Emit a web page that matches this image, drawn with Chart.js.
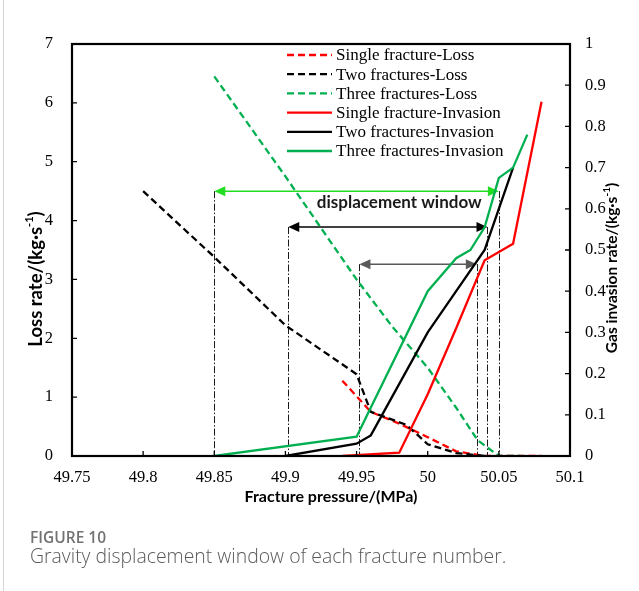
<!DOCTYPE html>
<html>
<head>
<meta charset="utf-8">
<script src="https://cdn.jsdelivr.net/npm/chart.js@4.4.1/dist/chart.umd.min.js"></script>
<style>
    html, body { margin: 0; padding: 0; background: #fff; }
    #wrap { position: relative; width: 639px; height: 591px; overflow: hidden; }
    #edge { position: absolute; left: 3px; top: 0; width: 1px; height: 591px; background: #d6d6d6; }
    #chart { position: absolute; left: 0; top: 0; }
    .fig { position: absolute; left: 30px; top: 526px; font: 600 15.5px "Open Sans"; color: #727272; }
    .cap { position: absolute; left: 30px; top: 542px; font: 300 19.4px "Open Sans"; color: #5a5a5a; white-space: nowrap; }
</style>
</head>
<body>
<div id="wrap">
    <div id="edge"></div>
    <canvas id="chart" width="639" height="591"></canvas>
    <div class="fig">FIGURE 10</div>
    <div class="cap">Gravity displacement window of each fracture number.</div>
</div>
<script>
// axis ticks
var xTicks = [49.75, 49.8, 49.85, 49.9, 49.95, 50, 50.05, 50.1];
var xTickLabels = ['49.75', '49.8', '49.85', '49.9', '49.95', '50', '50.05', '50.1'];
var lossTicks = [0, 1, 2, 3, 4, 5, 6, 7];
var lossTickLabels = ['0', '1', '2', '3', '4', '5', '6', '7'];
var gasTicks = [0, 0.1, 0.2, 0.3, 0.4, 0.5, 0.6, 0.7, 0.8, 0.9, 1];
var gasTickLabels = ['0', '0.1', '0.2', '0.3', '0.4', '0.5', '0.6', '0.7', '0.8', '0.9', '1'];

// loss rate (left axis)
var singleLossX = [49.94, 49.96, 49.98, 50, 50.02, 50.04, 50.06, 50.08];
var singleLossY = [1.28, 0.75, 0.55, 0.32, 0.08, 0, 0, 0];
var twoLossX = [49.8, 49.85, 49.9, 49.95, 49.96, 49.985, 50, 50.02, 50.04];
var twoLossY = [4.5, 3.38, 2.22, 1.39, 0.75, 0.53, 0.2, 0.05, 0];
var threeLossX = [49.85, 49.9, 49.95, 49.975, 50, 50.02, 50.035, 50.05, 50.065];
var threeLossY = [6.45, 4.75, 3.0, 2.2, 1.5, 0.82, 0.27, 0, 0];

// gas invasion rate (right axis)
var singleInvX = [49.94, 49.98, 50, 50.02, 50.04, 50.06, 50.08];
var singleInvY = [0, 0.008, 0.15, 0.31, 0.475, 0.515, 0.86];
var twoInvX = [49.9, 49.95, 49.96, 49.98, 50, 50.02, 50.04, 50.06];
var twoInvY = [0, 0.03, 0.05, 0.175, 0.3, 0.4, 0.5, 0.7];
var threeInvX = [49.85, 49.95, 50, 50.02, 50.03, 50.04, 50.05, 50.06, 50.07];
var threeInvY = [0, 0.047, 0.4, 0.48, 0.5, 0.555, 0.675, 0.7, 0.78];

// displacement windows: left / right pressure and loss-rate level of the arrow
var windowLeft = [49.85, 49.902, 49.952];
var windowRight = [50.05, 50.042, 50.0345];
var windowLevel = [4.5, 3.89, 3.26];

function pts(xs, ys) {
    return xs.map(function (x, i) { return { x: x, y: ys[i] }; });
}

var RED = '#ff0000', BLACK = '#000000', GREEN = '#00b050';
var DASH = [7, 4];

function series(label, xs, ys, color, dashed, axis, order) {
    return {
        label: label,
        data: pts(xs, ys),
        borderColor: color,
        backgroundColor: color,
        borderWidth: 2.3,
        borderDash: dashed ? DASH : [],
        pointRadius: 0,
        tension: 0,
        fill: false,
        yAxisID: axis,
        order: order
    };
}

var datasets = [
    series('Single fracture-Loss', singleLossX, singleLossY, RED, true, 'yLoss', 6),
    series('Two fractures-Loss', twoLossX, twoLossY, BLACK, true, 'yLoss', 5),
    series('Three fractures-Loss', threeLossX, threeLossY, GREEN, true, 'yLoss', 4),
    series('Single fracture-Invasion', singleInvX, singleInvY, RED, false, 'yGas', 3),
    series('Two fractures-Invasion', twoInvX, twoInvY, BLACK, false, 'yGas', 2),
    series('Three fractures-Invasion', threeInvX, threeInvY, GREEN, false, 'yGas', 1)
];

var serif = '"Liberation Serif", "Times New Roman", serif';
var sans = 'Lato, "Liberation Sans", sans-serif';

function fixedTicks(values) {
    return function (scale) {
        scale.ticks = values.map(function (v) { return { value: v }; });
    };
}

// text with a superscript part, centred at (0,0) of the current transform
function drawRich(ctx, parts, size) {
    var big = 'bold ' + size + 'px ' + sans,
        small = 'bold ' + Math.round(size * 0.62) + 'px ' + sans,
        total = 0;
    parts.forEach(function (p) {
        ctx.font = p.sup ? small : big;
        p.w = ctx.measureText(p.t).width;
        total += p.w;
    });
    var x = -total / 2;
    ctx.textAlign = 'left';
    ctx.textBaseline = 'middle';
    parts.forEach(function (p) {
        ctx.font = p.sup ? small : big;
        ctx.fillText(p.t, x, p.sup ? -size * 0.35 : 0);
        x += p.w;
    });
}

function arrowHead(ctx, x, y, dir) {
    ctx.beginPath();
    ctx.moveTo(x, y);
    ctx.lineTo(x - dir * 11, y - 5);
    ctx.lineTo(x - dir * 11, y + 5);
    ctx.closePath();
    ctx.fill();
}

var windowPlugin = {
    id: 'windows',
    beforeDatasetsDraw: function (chart) {
        var ctx = chart.ctx,
            xs = chart.scales.x,
            ys = chart.scales.yLoss,
            bottom = chart.chartArea.bottom,
            colors = ['#22dd22', '#000000', '#595959'];

        ctx.save();
        windowLeft.forEach(function (l, i) {
            var xl = xs.getPixelForValue(l),
                xr = xs.getPixelForValue(windowRight[i]),
                y = ys.getPixelForValue(windowLevel[i]);

            // dash-dot drop lines
            ctx.strokeStyle = '#1a1a1a';
            ctx.lineWidth = 1;
            ctx.setLineDash([7, 2, 1.5, 2]);
            [xl, xr].forEach(function (x) {
                ctx.beginPath();
                ctx.moveTo(Math.round(x) + 0.5, y);
                ctx.lineTo(Math.round(x) + 0.5, bottom);
                ctx.stroke();
            });

            // double arrow
            ctx.setLineDash([]);
            ctx.strokeStyle = colors[i];
            ctx.fillStyle = colors[i];
            ctx.lineWidth = 1.5;
            ctx.beginPath();
            ctx.moveTo(xl + 4, y);
            ctx.lineTo(xr - 4, y);
            ctx.stroke();
            arrowHead(ctx, xl, y, -1);
            arrowHead(ctx, xr, y, 1);
        });

        ctx.fillStyle = '#1a1a1a';
        ctx.font = 'bold 17px ' + sans;
        ctx.textAlign = 'center';
        ctx.textBaseline = 'middle';
        ctx.fillText('displacement window', xs.getPixelForValue(49.98), ys.getPixelForValue(4.3));
        ctx.restore();
    },
    afterDraw: function (chart) {
        var ctx = chart.ctx,
            a = chart.chartArea,
            xs = chart.scales.x,
            yl = chart.scales.yLoss,
            yg = chart.scales.yGas;

        ctx.save();
        ctx.strokeStyle = '#000';
        ctx.setLineDash([]);

        // inward tick marks
        ctx.lineWidth = 1.3;
        ctx.beginPath();
        xTicks.forEach(function (v) {
            var x = xs.getPixelForValue(v);
            ctx.moveTo(x, a.bottom);
            ctx.lineTo(x, a.bottom - 5);
        });
        lossTicks.forEach(function (v) {
            var y = yl.getPixelForValue(v);
            ctx.moveTo(a.left, y);
            ctx.lineTo(a.left + 5, y);
        });
        gasTicks.forEach(function (v) {
            var y = yg.getPixelForValue(v);
            ctx.moveTo(a.right, y);
            ctx.lineTo(a.right - 5, y);
        });
        ctx.stroke();

        // frame
        ctx.lineWidth = 2.2;
        ctx.strokeRect(a.left, a.top, a.right - a.left, a.bottom - a.top);

        // legend
        var lx = a.left + 215, ly = a.top + 11;
        chart.data.datasets.forEach(function (ds, i) {
            var y = ly + i * 19.2;
            ctx.strokeStyle = ds.borderColor;
            ctx.lineWidth = 2.3;
            ctx.setLineDash(ds.borderDash);
            ctx.beginPath();
            ctx.moveTo(lx, y);
            ctx.lineTo(lx + 45, y);
            ctx.stroke();
            ctx.setLineDash([]);
            ctx.fillStyle = '#000';
            ctx.font = '17px ' + serif;
            ctx.textAlign = 'left';
            ctx.textBaseline = 'middle';
            ctx.fillText(ds.label, lx + 49, y + 1);
        });

        // axis titles
        ctx.fillStyle = '#000';
        ctx.save();
        ctx.translate(331, 497);
        drawRich(ctx, [{ t: 'Fracture pressure/(MPa)' }], 16);
        ctx.restore();

        ctx.save();
        ctx.translate(36, 279);
        ctx.rotate(-Math.PI / 2);
        drawRich(ctx, [{ t: 'Loss rate/(kg·s' }, { t: '-1', sup: true }, { t: ')' }], 18.5);
        ctx.restore();

        ctx.save();
        ctx.translate(612, 268);
        ctx.rotate(-Math.PI / 2);
        drawRich(ctx, [{ t: 'Gas invasion rate/(kg·s' }, { t: '-1', sup: true }, { t: ')' }], 15.5);
        ctx.restore();

        ctx.restore();
    }
};

new Chart(document.getElementById('chart'), {
    type: 'line',
    data: { datasets: datasets },
    options: {
        responsive: false,
        animation: false,
        layout: { padding: { top: 44, left: 0, right: 0, bottom: 0 } },
        plugins: { legend: { display: false }, tooltip: { enabled: false } },
        scales: {
            x: {
                type: 'linear',
                min: 49.75,
                max: 50.1,
                afterBuildTicks: fixedTicks(xTicks),
                afterFit: function (s) { s.height = 135; },
                grid: { display: false, drawTicks: false },
                border: { display: false },
                ticks: {
                    autoSkip: false,
                    maxRotation: 0,
                    padding: 12,
                    color: '#000',
                    font: { family: serif, size: 16.5 },
                    callback: function (v, i) { return xTickLabels[i]; }
                }
            },
            yLoss: {
                position: 'left',
                min: 0,
                max: 7,
                afterBuildTicks: fixedTicks(lossTicks),
                afterFit: function (s) { s.width = 72; },
                grid: { display: false, drawTicks: false },
                border: { display: false },
                ticks: {
                    padding: 19,
                    color: '#000',
                    font: { family: serif, size: 16.5 },
                    callback: function (v, i) { return lossTickLabels[i]; }
                }
            },
            yGas: {
                position: 'right',
                min: 0,
                max: 1,
                afterBuildTicks: fixedTicks(gasTicks),
                afterFit: function (s) { s.width = 69; },
                grid: { display: false, drawTicks: false },
                border: { display: false },
                ticks: {
                    padding: 15,
                    color: '#000',
                    font: { family: serif, size: 16.5 },
                    callback: function (v, i) { return gasTickLabels[i]; }
                }
            }
        }
    },
    plugins: [windowPlugin]
});
</script>
</body>
</html>
